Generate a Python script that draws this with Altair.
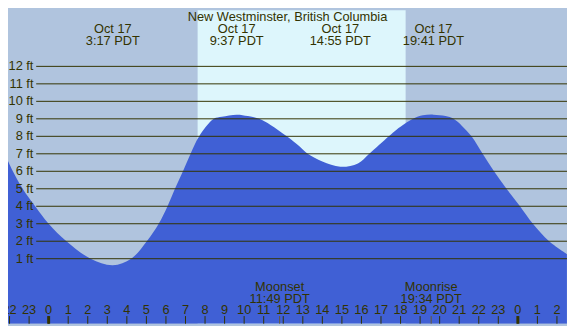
import altair as alt
import pandas as pd

# ---- data ----
tide_hours = [-2.08, -1.83, -1.33, -0.69, 0.0, 0.91, 2.15, 3.28, 4.22, 5.02, 5.63, 6.08,
              6.46, 6.87, 7.26, 7.70, 8.45, 8.86, 9.62, 10.19, 10.77, 11.35, 12.18,
              12.84, 13.25, 14.00, 14.92, 15.82, 16.40, 17.40, 17.81, 18.64, 19.14, 19.68,
              20.30, 20.71, 21.13, 21.63, 22.20, 22.78, 23.42, 24.11, 24.77, 25.60, 26.51]
tide_ft = [6.59, 6.0, 5.0, 4.0, 3.0, 2.0, 1.0, 0.63, 1.0, 2.0, 3.0, 4.0,
           5.0, 6.0, 7.0, 8.0, 9.0, 9.12, 9.24, 9.16, 9.0, 8.65, 8.0,
           7.42, 7.0, 6.56, 6.26, 6.45, 7.0, 8.0, 8.39, 9.0, 9.2, 9.24,
           9.16, 9.0, 8.61, 8.0, 7.0, 6.0, 5.0, 4.0, 3.0, 2.0, 1.27]

ft_levels = [1, 2, 3, 4, 5, 6, 7, 8, 9, 10, 11, 12]
ft_labels = ["1 ft", "2 ft", "3 ft", "4 ft", "5 ft", "6 ft", "7 ft", "8 ft", "9 ft",
             "10 ft", "11 ft", "12 ft"]

event_times = [3.283, 9.617, 14.917, 19.683]
event_dates = ["Oct 17", "Oct 17", "Oct 17", "Oct 17"]
event_labels = ["3:17 PDT", "9:37 PDT", "14:55 PDT", "19:41 PDT"]

sun_start = [7.62]
sun_end = [18.26]

moon_times = [11.817, 19.567]
moon_names = ["Moonset", "Moonrise"]
moon_labels = ["11:49 PDT", "19:34 PDT"]

tick_hours = list(range(-2, 27))
tick_labels = ["22", "23", "0", "1", "2", "3", "4", "5", "6", "7", "8", "9", "10",
               "11", "12", "13", "14", "15", "16", "17", "18", "19", "20", "21",
               "22", "23", "0", "1", "2"]
midnight_hours = [0, 24]

title_text = "New Westminster, British Columbia"

# ---- layout ----
W, H = 567, 318
FONT = "Liberation Sans"
TXT = "#333300"
Y_MIN, Y_MAX = -2.72, 15.21

xs = alt.Scale(domain=[-2.079, 26.514], nice=False, zero=False)
ys = alt.Scale(domain=[Y_MIN, Y_MAX], nice=False, zero=False)

tide_df = pd.DataFrame({"h": tide_hours, "ft": tide_ft})
tide_df["base"] = Y_MIN
ft_df = pd.DataFrame({"ft": ft_levels, "label": ft_labels})
ev_df = pd.DataFrame({"h": event_times, "date": event_dates, "label": event_labels})
sun_df = pd.DataFrame({"s": sun_start, "e": sun_end})
moon_df = pd.DataFrame({"h": moon_times, "name": moon_names, "label": moon_labels})
tick_df = pd.DataFrame({"h": tick_hours, "label": tick_labels})
mid_df = pd.DataFrame({"h": midnight_hours})

day = alt.Chart(sun_df).mark_rect(color="#ddf6fc").encode(
    x=alt.X("s:Q", scale=xs, axis=None), x2="e:Q",
    y=alt.value(0), y2=alt.value(H))

area = alt.Chart(tide_df).mark_area(color="#4060d5", interpolate="catmull-rom", clip=True).encode(
    x=alt.X("h:Q", scale=xs, axis=None),
    y=alt.Y("ft:Q", scale=ys, axis=None),
    y2="base:Q")

rules = alt.Chart(ft_df).mark_rule(color="#333300", strokeWidth=1).encode(
    y=alt.Y("ft:Q", scale=ys, axis=None),
    x=alt.value(28.6), x2=alt.value(W))

ftlab = alt.Chart(ft_df).mark_text(align="right", baseline="middle", font=FONT,
                                   fontSize=13, color=TXT).encode(
    y=alt.Y("ft:Q", scale=ys, axis=None), x=alt.value(25.8), text="label:N")

ticks = alt.Chart(tick_df).mark_rule(color="#333300", strokeWidth=1).encode(
    x=alt.X("h:Q", scale=xs, axis=None), y=alt.value(310.2), y2=alt.value(H))

mid = alt.Chart(mid_df).mark_rule(color="#333300", strokeWidth=3).encode(
    x=alt.X("h:Q", scale=xs, axis=None), y=alt.value(310.2), y2=alt.value(H))

moontick = alt.Chart(moon_df).mark_rule(color="#6b5a30", strokeWidth=1).encode(
    x=alt.X("h:Q", scale=xs, axis=None), y=alt.value(310.2), y2=alt.value(H))

ticklab = alt.Chart(tick_df).mark_text(baseline="middle", font=FONT, fontSize=13,
                                       color=TXT).encode(
    x=alt.X("h:Q", scale=xs, axis=None), y=alt.value(304.2), text="label:N")

ev1 = alt.Chart(ev_df).mark_text(baseline="middle", font=FONT, fontSize=13, color=TXT).encode(
    x=alt.X("h:Q", scale=xs, axis=None), y=alt.value(18.8), text="date:N")
ev2 = alt.Chart(ev_df).mark_text(baseline="middle", font=FONT, fontSize=13, color=TXT).encode(
    x=alt.X("h:Q", scale=xs, axis=None), y=alt.value(30.9), text="label:N")

mn1 = alt.Chart(moon_df).mark_text(baseline="middle", font=FONT, fontSize=13, color=TXT).encode(
    x=alt.X("h:Q", scale=xs, axis=None), y=alt.value(280.3), text="name:N")
mn2 = alt.Chart(moon_df).mark_text(baseline="middle", font=FONT, fontSize=13, color=TXT).encode(
    x=alt.X("h:Q", scale=xs, axis=None), y=alt.value(292.6), text="label:N")

title = alt.Chart(pd.DataFrame({"t": [title_text]})).mark_text(
    baseline="middle", font=FONT, fontSize=13, color=TXT).encode(
    x=alt.value(W / 2), y=alt.value(7.3), text="t:N")

chart = alt.layer(day, area, rules, ftlab, ticks, mid, moontick, ticklab,
                  ev1, ev2, mn1, mn2, title).properties(
    width=W, height=H, padding=0, autosize="none", background="#b0c4de"
).configure_view(stroke=None)

chart.save("out.html", embed_options={"renderer": "svg", "actions": False})
